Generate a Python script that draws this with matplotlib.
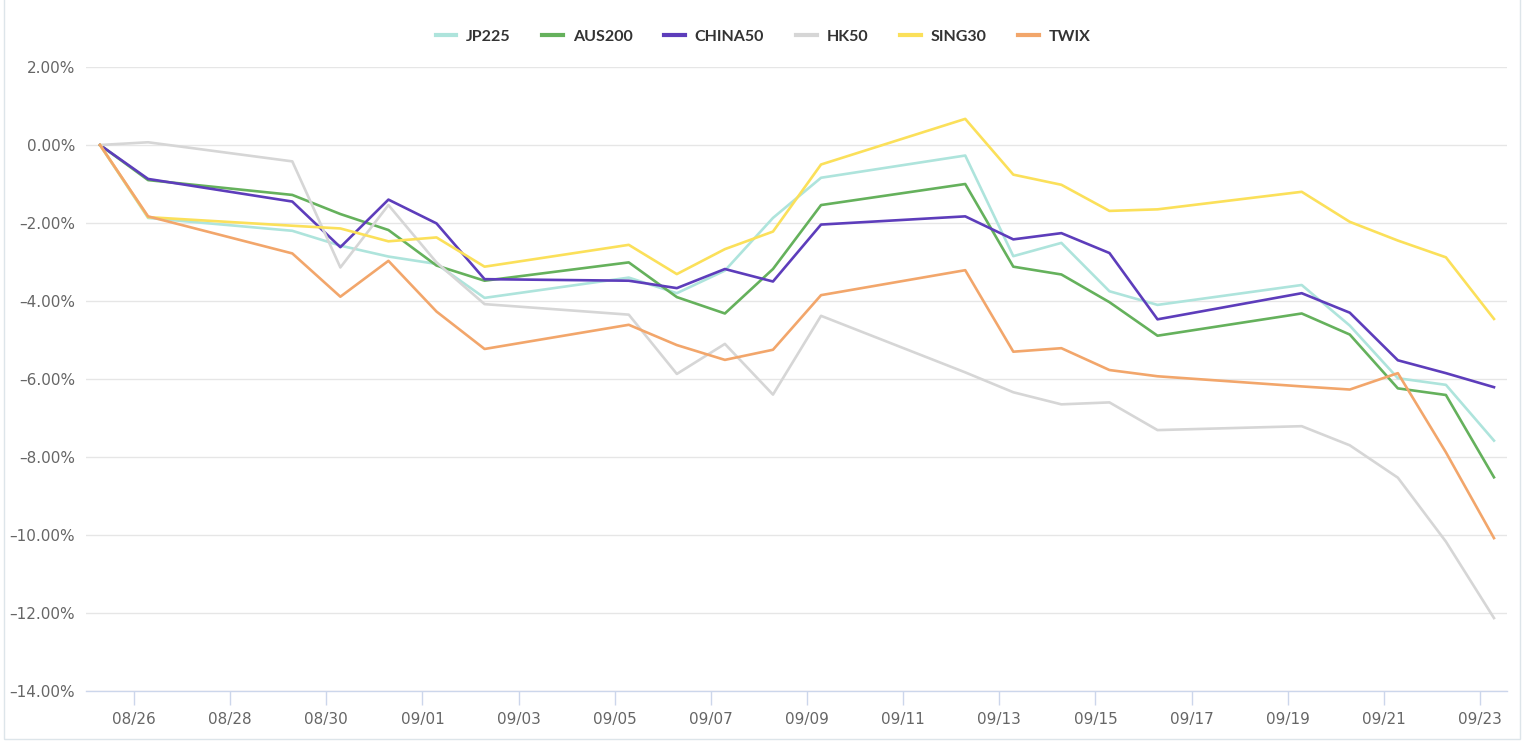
import pandas as pd
import matplotlib
import matplotlib.pyplot as plt
import matplotlib.dates as mdates
from matplotlib.patches import Rectangle

matplotlib.use("Agg")

# --- data (cumulative % change) ---
dates = ["2022-08-25", "2022-08-26", "2022-08-29", "2022-08-30", "2022-08-31",
         "2022-09-01", "2022-09-02", "2022-09-05", "2022-09-06", "2022-09-07",
         "2022-09-08", "2022-09-09", "2022-09-12", "2022-09-13", "2022-09-14",
         "2022-09-15", "2022-09-16", "2022-09-19", "2022-09-20", "2022-09-21",
         "2022-09-22", "2022-09-23"]

jp225 = [0.0, -1.87, -2.20, -2.58, -2.86, -3.05, -3.92, -3.40, -3.80, -3.22, -1.87,
         -0.84, -0.27, -2.85, -2.51, -3.75, -4.10, -3.59, -4.63, -5.98, -6.15, -7.58]
aus200 = [0.0, -0.90, -1.28, -1.77, -2.18, -3.09, -3.48, -3.01, -3.90, -4.32, -3.18,
          -1.54, -1.00, -3.12, -3.32, -4.03, -4.89, -4.32, -4.86, -6.24, -6.41, -8.52]
china50 = [0.0, -0.87, -1.45, -2.62, -1.40, -2.01, -3.44, -3.48, -3.67, -3.18, -3.50,
           -2.04, -1.83, -2.42, -2.26, -2.77, -4.47, -3.80, -4.30, -5.52, -5.85, -6.21]
hk50 = [0.0, 0.07, -0.42, -3.14, -1.54, -3.01, -4.08, -4.35, -5.87, -5.10, -6.40,
        -4.38, -5.83, -6.34, -6.65, -6.60, -7.31, -7.21, -7.70, -8.53, -10.17, -12.13]
sing30 = [0.0, -1.85, -2.07, -2.14, -2.47, -2.37, -3.12, -2.56, -3.31, -2.67, -2.22,
          -0.50, 0.67, -0.76, -1.02, -1.69, -1.65, -1.20, -1.97, -2.45, -2.88, -4.46]
twix = [0.0, -1.83, -2.78, -3.89, -2.97, -4.27, -5.23, -4.61, -5.13, -5.51, -5.25,
        -3.85, -3.21, -5.30, -5.21, -5.77, -5.93, -6.19, -6.27, -5.85, -7.88, -10.08]

names = ["JP225", "AUS200", "CHINA50", "HK50", "SING30", "TWIX"]
series = [jp225, aus200, china50, hk50, sing30, twix]
colors = ["#aee4dc", "#65b15c", "#5d3dbb", "#d6d6d6", "#fbe05a", "#f2a66b"]

yticks = [2, 0, -2, -4, -6, -8, -10, -12, -14]

# quotes are taken in the morning, not at midnight
x = pd.to_datetime(dates) + pd.Timedelta(hours=7)

# --- figure ---
W, H = 1526, 750
fig = plt.figure(figsize=(W / 100, H / 100), dpi=100)
fig.patch.set_facecolor("white")

# thin outer frame
fig.add_artist(Rectangle((4 / W, 1 - 739 / H), (1520 - 4) / W, 0.99,
                         transform=fig.transFigure, fill=False,
                         edgecolor="#dde5ea", linewidth=1))

ax = fig.add_axes([86 / W, 1 - 691 / H, (1507 - 86) / W, (691 - 67) / H])

for name, vals, c in zip(names, series, colors):
    ax.plot(x, vals, color=c, linewidth=1.9, label=name)

ax.set_ylim(-14, 2)
ax.set_yticks(yticks)
ax.set_yticklabels([(f"{v:.2f}%").replace("-", "\u2013") for v in yticks])
ax.set_xlim(pd.Timestamp("2022-08-25"), pd.Timestamp("2022-09-23 13:30"))
ax.set_xticks(pd.date_range("2022-08-26", "2022-09-23", freq="2D"))
ax.xaxis.set_major_formatter(mdates.DateFormatter("%m/%d"))

ax.grid(axis="y", color="#e6e6e6", linewidth=1)
ax.set_axisbelow(True)
for s in ["top", "right", "left"]:
    ax.spines[s].set_visible(False)
ax.spines["bottom"].set_color("#ccd6eb")
ax.spines["bottom"].set_linewidth(1)
ax.spines["bottom"].set_zorder(0.5)

ax.tick_params(axis="x", length=10, width=1, color="#ccd6eb",
               labelcolor="#666666", labelsize=11, pad=5)
ax.tick_params(axis="y", length=0, labelcolor="#666666", labelsize=11, pad=8)

leg = fig.legend(loc="center", bbox_to_anchor=(0.5, 1 - 37 / H), ncol=6, frameon=False,
                 handlelength=1.3, handletextpad=0.6, columnspacing=2.0,
                 prop={"family": "Lato", "weight": "bold", "size": 11.5},
                 labelcolor="#333333")
for line in leg.get_lines():
    line.set_linewidth(3)

fig.savefig("out.png", dpi=100, facecolor="white")
